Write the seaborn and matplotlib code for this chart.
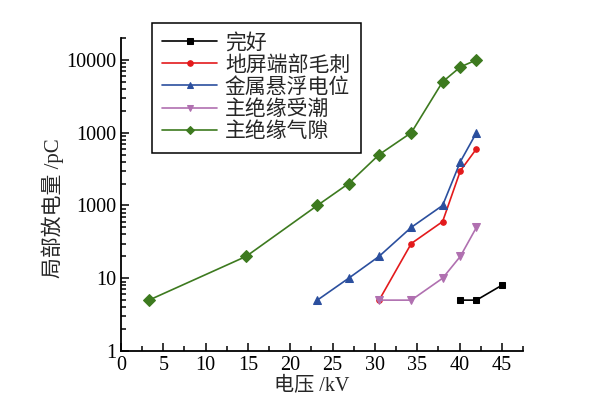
"""Partial discharge magnitude vs applied voltage for several defect types."""

import matplotlib

matplotlib.use("Agg")
import pandas as pd
import seaborn as sns
from matplotlib import pyplot as plt
from matplotlib.ticker import FixedLocator, LogLocator, MultipleLocator, NullFormatter

# data
series_names = ["完好", "地屏端部毛刺", "金属悬浮电位", "主绝缘受潮", "主绝缘气隙"]
intact_kv = [40.0, 42.0, 45.0]
intact_pc = [5, 5, 8]
burr_kv = [30.5, 34.3, 38.0, 40.1, 42.0]
burr_pc = [5, 30, 60, 300, 600]
floating_kv = [23.2, 26.9, 30.5, 34.3, 38.0, 40.1, 42.0]
floating_pc = [5, 10, 20, 50, 100, 400, 1000]
moist_kv = [30.5, 34.3, 38.0, 40.1, 42.0]
moist_pc = [5, 5, 10, 20, 50]
gap_kv = [3.3, 14.8, 23.2, 26.9, 30.5, 34.3, 38.0, 40.1, 42.0]
gap_pc = [5, 20, 100, 200, 500, 1000, 5000, 8000, 10000]

y_tick_values = [1, 10, 100, 1000, 10000]
y_tick_labels = ["1", "10", "1000", "1000", "10000"]  # as printed in the original

colors = ["#000000", "#e31a1c", "#2b4f9e", "#b070b0", "#3d7a1f"]
markers = ["s", "o", "^", "v", "D"]
marker_sizes = [4.5, 4, 5.5, 5.5, 6]

frames = []
for name, xs, ys in zip(
    series_names,
    [intact_kv, burr_kv, floating_kv, moist_kv, gap_kv],
    [intact_pc, burr_pc, floating_pc, moist_pc, gap_pc],
):
    frames.append(pd.DataFrame({"series": name, "kv": xs, "pc": ys}))
df = pd.concat(frames, ignore_index=True)

sns.set_style("ticks")
plt.rcParams["font.family"] = ["Liberation Serif", "Noto Sans CJK SC"]
plt.rcParams["axes.unicode_minus"] = False

fig = plt.figure(figsize=(5.92, 4.04), dpi=100)
ax = fig.add_axes([121 / 592, 1 - 351 / 404, 402 / 592, 313 / 404])

for name, color, marker, ms in zip(series_names, colors, markers, marker_sizes):
    sns.lineplot(
        data=df[df["series"] == name],
        x="kv",
        y="pc",
        ax=ax,
        color=color,
        marker=marker,
        markersize=ms,
        markeredgecolor=color,
        linewidth=1.2,
        estimator=None,
        sort=False,
        label=name,
    )

ax.set_yscale("log")
ax.set_xlim(0, 47.5)
ax.set_ylim(1, 20000)

ax.xaxis.set_major_locator(MultipleLocator(5))
ax.xaxis.set_minor_locator(MultipleLocator(2.5))
ax.yaxis.set_major_locator(FixedLocator(y_tick_values))
ax.set_yticklabels(y_tick_labels)
ax.yaxis.set_minor_locator(LogLocator(base=10, subs=range(2, 10)))
ax.yaxis.set_minor_formatter(NullFormatter())

ax.tick_params(which="both", direction="in", colors="black", labelsize=14.5, width=1.1)
ax.tick_params(which="major", length=6)
ax.tick_params(which="minor", length=3.5)
for side in ["left", "bottom"]:
    ax.spines[side].set_linewidth(1.3)
    ax.spines[side].set_color("black")
sns.despine(ax=ax)

ax.set_xlabel("电压 /kV", fontsize=14.5)
ax.set_ylabel("局部放电量 /pC", fontsize=15)
ax.xaxis.set_label_coords(0.475, -0.082)
ax.yaxis.set_label_coords(-0.142, 0.457)

leg = ax.legend(
    loc="upper left",
    bbox_to_anchor=(152 / 592, 1 - 23 / 404),
    bbox_transform=fig.transFigure,
    fontsize=15,
    frameon=True,
    fancybox=False,
    edgecolor="black",
    handlelength=2.6,
    handletextpad=0.4,
    labelspacing=0.12,
    borderpad=0.5,
    borderaxespad=0,
)
leg.get_frame().set_linewidth(1.1)
leg.get_frame().set_alpha(1)
for handle in leg.legend_handles:
    handle.set_markersize(4)

fig.savefig("out.png", dpi=100)
